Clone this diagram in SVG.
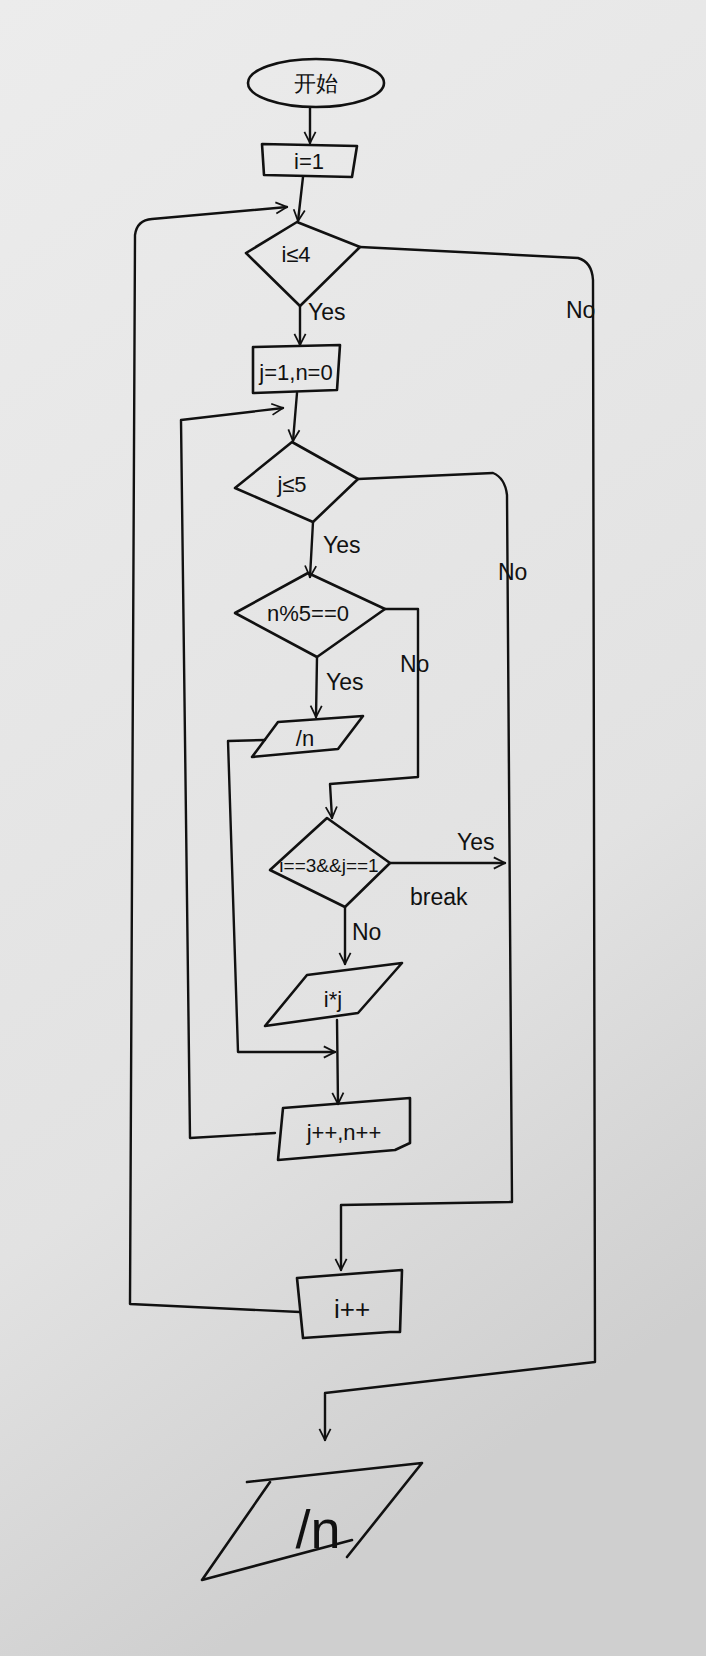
<svg xmlns="http://www.w3.org/2000/svg" width="706" height="1656" viewBox="0 0 706 1656">
<defs>
<linearGradient id="bg" x1="0" y1="0" x2="0.3" y2="1">
<stop offset="0" stop-color="#ececec"/>
<stop offset="0.7" stop-color="#e2e2e2"/>
<stop offset="1" stop-color="#cfcfcf"/>
</linearGradient>
<marker id="arr" viewBox="0 0 20 20" refX="18" refY="10" markerWidth="14" markerHeight="14" markerUnits="userSpaceOnUse" orient="auto">
<polyline points="2,2 18,10 2,18" fill="none" stroke="#111" stroke-width="2.5"/>
</marker>
</defs>
<style>
.s{fill:none;stroke:#111;stroke-width:2.6;stroke-linejoin:round;stroke-linecap:round}
.c{fill:none;stroke:#111;stroke-width:2.4;stroke-linejoin:round;stroke-linecap:round;marker-end:url(#arr)}
.t{font-family:"Liberation Sans",Arial,sans-serif;fill:#111;font-size:22px;text-anchor:middle}
.l{font-family:"Liberation Sans",Arial,sans-serif;fill:#111;font-size:23px}
</style>
<rect width="706" height="1656" fill="url(#bg)"/>
<g id="connectors">
<path class="c" d="M310,108 L310,143"/>
<path class="c" d="M303,177 L298,221"/>
<path class="c" d="M300,1312 L130,1304 L135,235 Q137,220 152,219 L287,207"/>
<path class="c" d="M300,306 L300,345"/>
<path class="c" d="M360,247 L578,258 Q592,262 593,280 L595,1362 L325,1393 L325,1440"/>
<path class="c" d="M297,393 L293,441"/>
<path class="c" d="M275,1133 L190,1138 L181,420 L283,408"/>
<path class="c" d="M313,522 L310,577"/>
<path class="c" d="M358,479 L493,473 Q505,478 507,495 L512,1202 L341,1205 L341,1270"/>
<path class="c" d="M317,657 L316,717"/>
<path class="c" d="M385,609 L418,609 L418,777 L330,784 L332,818"/>
<path class="c" d="M265,740 L228,741 L238,1052 L335,1052"/>
<path class="c" d="M390,863 L505,863"/>
<path class="c" d="M345,907 L345,964"/>
<path class="c" d="M337,1020 L338,1104"/>
<text class="l" x="308" y="320">Yes</text>
<text class="l" x="566" y="318">No</text>
<text class="l" x="323" y="553">Yes</text>
<text class="l" x="498" y="580">No</text>
<text class="l" x="326" y="690">Yes</text>
<text class="l" x="400" y="672">No</text>
<text class="l" x="457" y="850">Yes</text>
<text class="l" x="410" y="905">break</text>
<text class="l" x="352" y="940">No</text>
</g>
<g id="start">
<ellipse class="s" cx="316" cy="83" rx="68" ry="24"/>
<text class="t" x="316" y="91">开始</text>
</g>
<g id="init_i">
<polygon class="s" points="262,144 357,146 352,177 264,175"/>
<text class="t" x="309" y="169">i=1</text>
</g>
<g id="cond_i">
<polygon class="s" points="297,222 360,247 300,306 246,253"/>
<text class="t" x="296" y="262">i≤4</text>
</g>
<g id="init_j">
<polygon class="s" points="253,347 340,345 337,390 253,393"/>
<text class="t" x="296" y="380">j=1,n=0</text>
</g>
<g id="cond_j">
<polygon class="s" points="292,442 358,479 313,522 235,488"/>
<text class="t" x="292" y="492">j≤5</text>
</g>
<g id="cond_mod">
<polygon class="s" points="308,573 385,609 317,657 235,613"/>
<text class="t" x="308" y="621">n%5==0</text>
</g>
<g id="out_n">
<polygon class="s" points="278,722 363,716 338,749 252,757"/>
<text class="t" x="305" y="746">/n</text>
</g>
<g id="cond_break">
<polygon class="s" points="327,818 390,863 345,907 270,870"/>
<text class="t" x="329" y="872" style="font-size:19px">i==3&amp;&amp;j==1</text>
</g>
<g id="out_ij">
<polygon class="s" points="307,975 402,963 358,1013 265,1026"/>
<text class="t" x="333" y="1007">i*j</text>
</g>
<g id="inc_jn">
<polygon class="s" points="283,1108 410,1098 410,1143 395,1150 278,1160"/>
<text class="t" x="344" y="1140">j++,n++</text>
</g>
<g id="inc_i">
<polygon class="s" points="297,1278 402,1270 400,1332 390,1332 303,1338"/>
<text class="t" x="352" y="1318" style="font-size:26px">i++</text>
</g>
<g id="out_final">
<path class="s" d="M247,1482 L422,1463 L347,1557 M270,1482 L202,1580 L352,1540"/>
<text class="t" x="318" y="1548" style="font-size:54px">/n</text>
</g>
</svg>
